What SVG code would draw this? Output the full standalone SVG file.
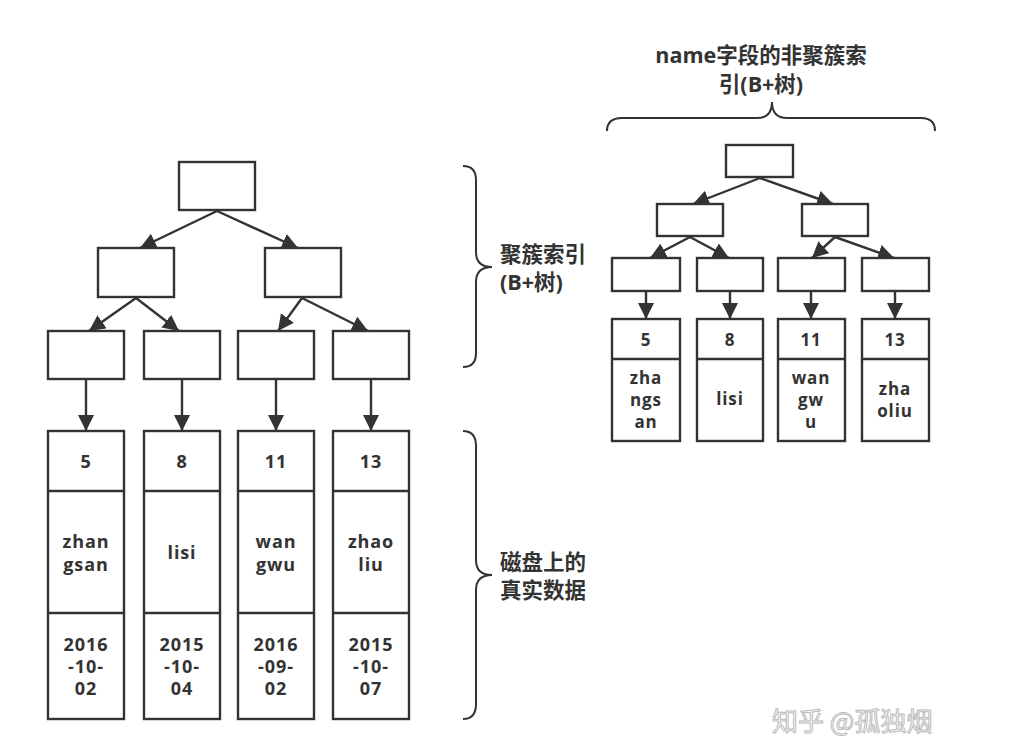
<svg xmlns="http://www.w3.org/2000/svg" width="1012" height="736" viewBox="0 0 1012 736">
<style>
.box{fill:#fff;stroke:#333;stroke-width:2.4}
.div{stroke:#333;stroke-width:2.4}
.edge{fill:none;stroke:#333;stroke-width:2.4}
.brace{fill:none;stroke:#333;stroke-width:2}
.t{font-family:"Open Sans","Noto Sans CJK SC",sans-serif;font-weight:bold;fill:#333;text-anchor:middle;letter-spacing:0.9px}
.d{font-size:18px}
.s{font-size:17px}
.lab{font-family:"Open Sans","Noto Sans CJK SC",sans-serif;font-weight:bold;fill:#333;font-size:21.5px}
.wm{font-family:"Noto Sans CJK SC",sans-serif;font-size:26px;fill:#fff;stroke:#bbb;stroke-width:1}
</style>
<defs>
<marker id="ah" markerUnits="userSpaceOnUse" markerWidth="20" markerHeight="20" refX="16" refY="8" orient="auto">
<path d="M0,0 L16,8 L0,16 Z" fill="#333"/>
</marker>
</defs>
<rect width="1012" height="736" fill="#fff"/>

<g id="connectors">
<path class="edge" d="M217,211 L140,248" marker-end="url(#ah)"/>
<path class="edge" d="M217,211 L298,248" marker-end="url(#ah)"/>
<path class="edge" d="M136,298 L89,331" marker-end="url(#ah)"/>
<path class="edge" d="M136,298 L179,331" marker-end="url(#ah)"/>
<path class="edge" d="M302,298 L278,331" marker-end="url(#ah)"/>
<path class="edge" d="M302,298 L368,331" marker-end="url(#ah)"/>
<path class="edge" d="M86,380 L86,431" marker-end="url(#ah)"/>
<path class="edge" d="M182,380 L182,431" marker-end="url(#ah)"/>
<path class="edge" d="M276,380 L276,431" marker-end="url(#ah)"/>
<path class="edge" d="M371,380 L371,431" marker-end="url(#ah)"/>

<path class="edge" d="M760,178 L693,204" marker-end="url(#ah)"/>
<path class="edge" d="M760,178 L833,204" marker-end="url(#ah)"/>
<path class="edge" d="M690,237 L650,258" marker-end="url(#ah)"/>
<path class="edge" d="M690,237 L729,258" marker-end="url(#ah)"/>
<path class="edge" d="M835,237 L812,258" marker-end="url(#ah)"/>
<path class="edge" d="M835,237 L894,258" marker-end="url(#ah)"/>
<path class="edge" d="M646,291 L646,319" marker-end="url(#ah)"/>
<path class="edge" d="M730,291 L730,319" marker-end="url(#ah)"/>
<path class="edge" d="M811,291 L811,319" marker-end="url(#ah)"/>
<path class="edge" d="M895,291 L895,319" marker-end="url(#ah)"/>
</g>

<g id="ci-root"><rect class="box" x="179" y="162" width="76" height="48"/></g>
<g id="ci-l2a"><rect class="box" x="98" y="248" width="76" height="49"/></g>
<g id="ci-l2b"><rect class="box" x="265" y="248" width="76" height="49"/></g>
<g id="ci-l3a"><rect class="box" x="48" y="331" width="76" height="48"/></g>
<g id="ci-l3b"><rect class="box" x="144" y="331" width="76" height="48"/></g>
<g id="ci-l3c"><rect class="box" x="238" y="331" width="76" height="48"/></g>
<g id="ci-l3d"><rect class="box" x="333" y="331" width="76" height="48"/></g>

<g id="row-5">
<rect class="box" x="48" y="431" width="76" height="288"/>
<line class="div" x1="48" y1="491" x2="124" y2="491"/><line class="div" x1="48" y1="613" x2="124" y2="613"/>
<text class="t d" x="86" y="468">5</text>
<text class="t d" x="86" y="548">zhan</text><text class="t d" x="86" y="571">gsan</text>
<text class="t d" x="86" y="651">2016</text><text class="t d" x="86" y="673">-10-</text><text class="t d" x="86" y="695">02</text>
</g>
<g id="row-8">
<rect class="box" x="144" y="431" width="76" height="288"/>
<line class="div" x1="144" y1="491" x2="220" y2="491"/><line class="div" x1="144" y1="613" x2="220" y2="613"/>
<text class="t d" x="182" y="468">8</text>
<text class="t d" x="182" y="559">lisi</text>
<text class="t d" x="182" y="651">2015</text><text class="t d" x="182" y="673">-10-</text><text class="t d" x="182" y="695">04</text>
</g>
<g id="row-11">
<rect class="box" x="238" y="431" width="76" height="288"/>
<line class="div" x1="238" y1="491" x2="314" y2="491"/><line class="div" x1="238" y1="613" x2="314" y2="613"/>
<text class="t d" x="276" y="468">11</text>
<text class="t d" x="276" y="548">wan</text><text class="t d" x="276" y="571">gwu</text>
<text class="t d" x="276" y="651">2016</text><text class="t d" x="276" y="673">-09-</text><text class="t d" x="276" y="695">02</text>
</g>
<g id="row-13">
<rect class="box" x="333" y="431" width="76" height="288"/>
<line class="div" x1="333" y1="491" x2="409" y2="491"/><line class="div" x1="333" y1="613" x2="409" y2="613"/>
<text class="t d" x="371" y="468">13</text>
<text class="t d" x="371" y="548">zhao</text><text class="t d" x="371" y="571">liu</text>
<text class="t d" x="371" y="651">2015</text><text class="t d" x="371" y="673">-10-</text><text class="t d" x="371" y="695">07</text>
</g>

<g id="brace-clustered">
<path class="brace" d="M463,166 Q476,166 476,180 L476,252 Q476,267 492,267 Q476,267 476,282 L476,353 Q476,367 463,367"/>
<text class="lab" x="500" y="262">聚簇索引</text>
<text class="lab" x="500" y="290">(B+树)</text>
</g>
<g id="brace-data">
<path class="brace" d="M463,431 Q476,431 476,446 L476,560 Q476,575 492,575 Q476,575 476,590 L476,704 Q476,719 463,719"/>
<text class="lab" x="500" y="570">磁盘上的</text>
<text class="lab" x="500" y="598">真实数据</text>
</g>

<g id="brace-secondary">
<text class="lab" x="761" y="63" text-anchor="middle">name字段的非聚簇索</text>
<text class="lab" x="761" y="92" text-anchor="middle">引(B+树)</text>
<path class="brace" d="M607,131 Q607,118 622,118 L757,118 Q772,118 772,102 Q772,118 787,118 L921,118 Q935,118 935,131"/>
</g>

<g id="nc-root"><rect class="box" x="726" y="145" width="67" height="32"/></g>
<g id="nc-l2a"><rect class="box" x="657" y="204" width="66" height="32"/></g>
<g id="nc-l2b"><rect class="box" x="802" y="204" width="66" height="32"/></g>
<g id="nc-l3a"><rect class="box" x="612" y="258" width="68" height="33"/></g>
<g id="nc-l3b"><rect class="box" x="697" y="258" width="66" height="33"/></g>
<g id="nc-l3c"><rect class="box" x="778" y="258" width="67" height="33"/></g>
<g id="nc-l3d"><rect class="box" x="862" y="258" width="67" height="33"/></g>

<g id="nc-row-5">
<rect class="box" x="612" y="319" width="68" height="122"/>
<line class="div" x1="612" y1="359" x2="680" y2="359"/>
<text class="t s" x="646" y="346">5</text>
<text class="t s" x="646" y="384">zha</text><text class="t s" x="646" y="406">ngs</text><text class="t s" x="646" y="428">an</text>
</g>
<g id="nc-row-8">
<rect class="box" x="697" y="319" width="66" height="122"/>
<line class="div" x1="697" y1="359" x2="763" y2="359"/>
<text class="t s" x="730" y="346">8</text>
<text class="t s" x="730" y="405">lisi</text>
</g>
<g id="nc-row-11">
<rect class="box" x="778" y="319" width="67" height="122"/>
<line class="div" x1="778" y1="359" x2="845" y2="359"/>
<text class="t s" x="811" y="346">11</text>
<text class="t s" x="811" y="384">wan</text><text class="t s" x="811" y="406">gw</text><text class="t s" x="811" y="428">u</text>
</g>
<g id="nc-row-13">
<rect class="box" x="862" y="319" width="67" height="122"/>
<line class="div" x1="862" y1="359" x2="929" y2="359"/>
<text class="t s" x="895" y="346">13</text>
<text class="t s" x="895" y="395">zha</text><text class="t s" x="895" y="417">oliu</text>
</g>

<text class="wm" x="772" y="731">知乎 @孤独烟</text>
</svg>
